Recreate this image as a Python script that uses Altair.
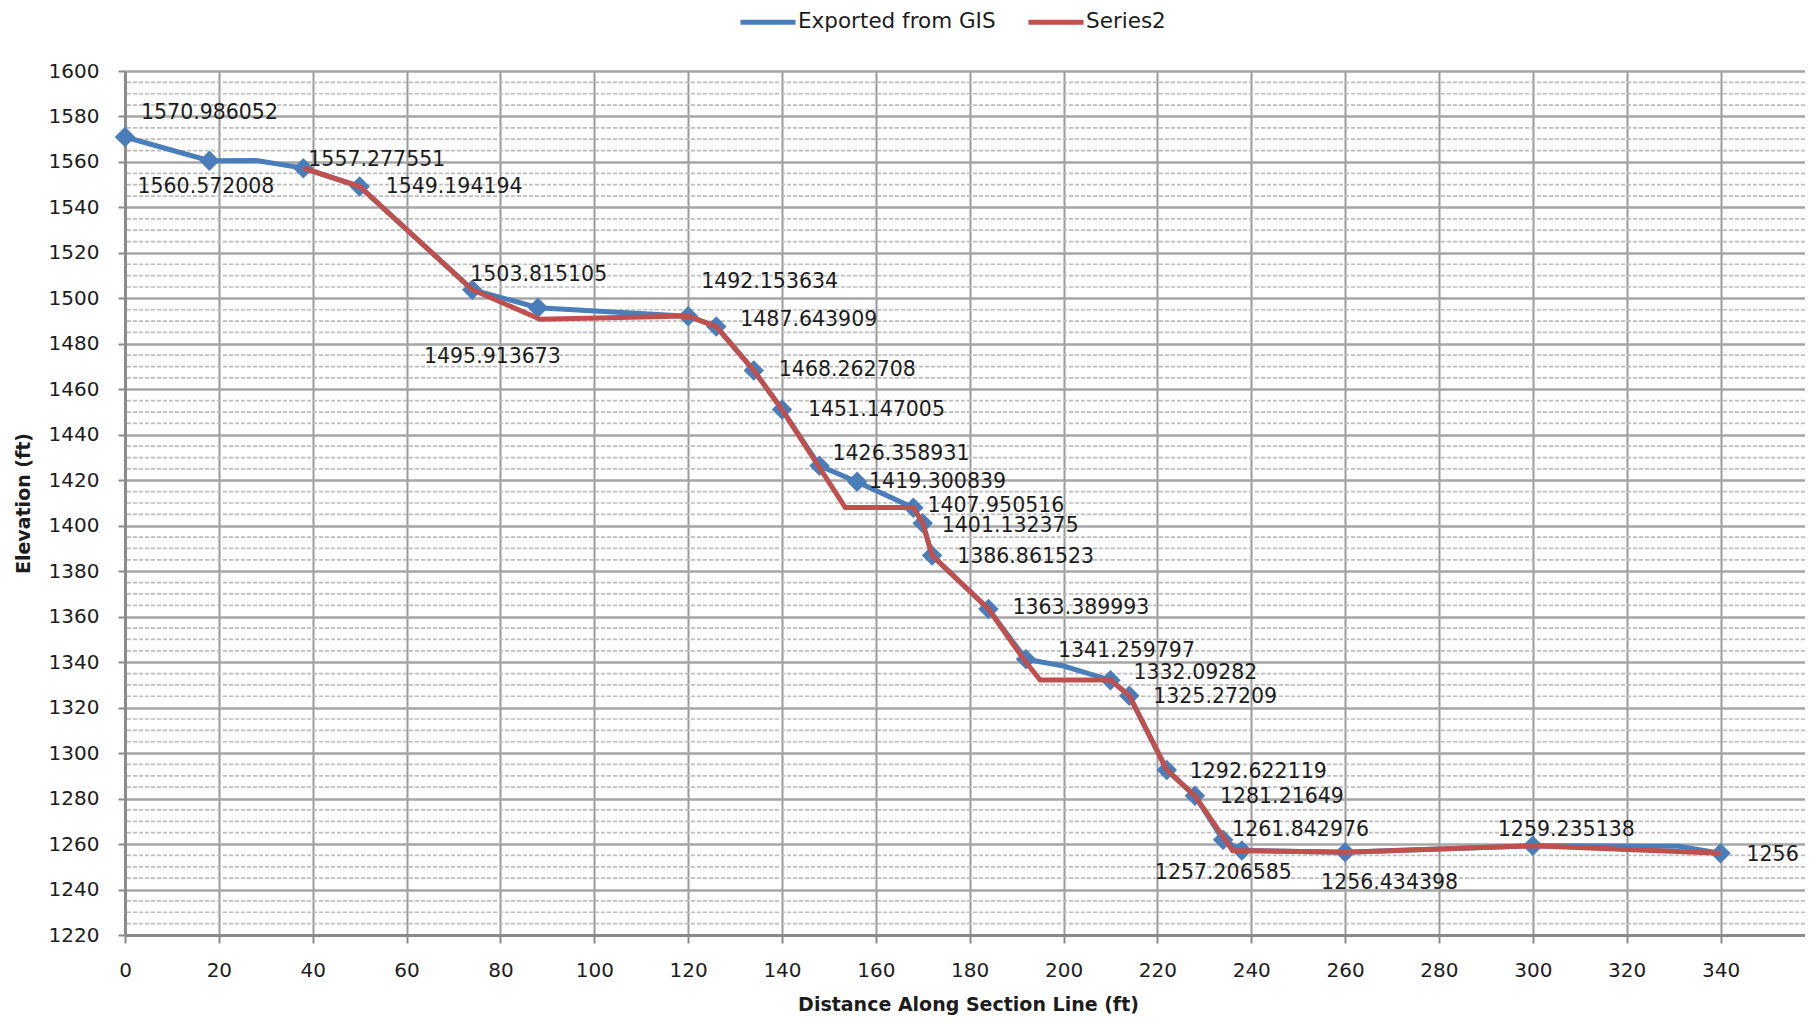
import altair as alt
import pandas as pd

# ---------------- data ----------------
series_names = ["Exported from GIS", "Series2"]
series_colors = ["#4a7ebb", "#c0504d"]

# labelled (marked) points of the GIS profile
gis_dist = [0, 18, 38, 50, 74, 88, 120, 126, 134, 140, 148, 156, 168, 170, 172,
            184, 192, 210, 214, 222, 228, 234, 238, 260, 300, 340]
gis_elev = [1570.986052, 1560.572008, 1557.277551, 1549.194194, 1503.815105,
            1495.913673, 1492.153634, 1487.643909, 1468.262708, 1451.147005,
            1426.358931, 1419.300839, 1407.950516, 1401.132375, 1386.861523,
            1363.389993, 1341.259797, 1332.09282, 1325.27209, 1292.622119,
            1281.21649, 1261.842976, 1257.206585, 1256.434398, 1259.235138, 1256]

# unmarked bends of the GIS line
gis_bend_dist = [28, 200, 331]
gis_bend_elev = [1560.6, 1338.3, 1259.0]

# Series2 profile
s2_dist = [38, 50, 74, 88.5, 120, 126, 134, 140, 153.5, 168, 170, 172, 184,
           191.5, 195, 210, 214, 222, 228, 236, 260, 300, 340]
s2_elev = [1557.3, 1549.2, 1503.8, 1490.8, 1492.2, 1487.6, 1468.3, 1451.1,
           1408.0, 1408.0, 1401.1, 1386.9, 1363.4, 1341.3, 1332.1, 1332.1,
           1325.3, 1292.6, 1281.2, 1257.2, 1256.4, 1259.2, 1256.0]

x_ticks = list(range(0, 341, 20))
y_major = list(range(1220, 1601, 20))
y_minor = [v for v in range(1220, 1601, 5) if v % 20 != 0]

# ---------------- layout / style ----------------
FONT = "DejaVu Sans"
TXT = "#1c1c1c"
W, H = 1680, 864

# pixel nudges of each data label (keyed by distance), relative to its point
LABEL_NUDGE = {
    0: (16, -24), 18: (-72, 26), 38: (5, -8), 50: (26, 0), 74: (-2, -15),
    88: (-114, 49), 120: (13, -34), 126: (24, -6), 134: (25, -1), 140: (26, 1),
    148: (13, -12), 156: (12, 0), 168: (14, -2), 170: (19, 3), 172: (25, 1),
    184: (24, -1), 192: (32, -8), 210: (23, -7), 214: (24, 1), 222: (23, 2),
    228: (25, 1), 234: (9, -10), 238: (-87, 23), 260: (-24, 31),
    300: (-35, -16), 340: (26, 2),
}

x_scale = alt.Scale(domain=[0, 358], nice=False, zero=False)
y_scale = alt.Scale(domain=[1220, 1600], nice=False, zero=False)
color_scale = alt.Scale(domain=series_names, range=series_colors)

x_axis = alt.Axis(
    values=x_ticks, format="d", title="Distance Along Section Line (ft)",
    grid=True, gridColor="#9a9a9a", gridWidth=2,
    domainColor="#8a8a8a", domainWidth=3,
    tickColor="#8a8a8a", tickWidth=2, tickSize=8,
    labelFont=FONT, labelFontSize=20, labelColor=TXT, labelPadding=17,
    labelFlush=False, labelOverlap=False,
    titleFont=FONT, titleFontSize=19, titleFontWeight="bold", titleColor=TXT,
    titleX=843, titleY=60, titleBaseline="top", titleAlign="center",
)
y_axis = alt.Axis(
    values=y_major, format="d", title="Elevation (ft)",
    grid=True, gridColor="#a6a6a6", gridWidth=2.5,
    domainColor="#8a8a8a", domainWidth=3,
    tickColor="#8a8a8a", tickWidth=2, tickSize=7,
    labelFont=FONT, labelFontSize=20, labelColor=TXT, labelPadding=19,
    labelFlush=False, labelOverlap=False,
    titleFont=FONT, titleFontSize=19, titleFontWeight="bold", titleColor=TXT,
    titleX=-102, titleY=H / 2, titleAngle=270, titleBaseline="middle",
    titleAlign="center",
)
legend = alt.Legend(
    title=None, orient="none", legendX=613, legendY=-79,
    direction="horizontal", symbolType="stroke", symbolSize=3025,
    symbolStrokeWidth=5, labelFont=FONT, labelFontSize=21.5,
    labelColor=TXT, labelOffset=0, labelLimit=0, columnPadding=22, padding=0,
)

# ---------------- frames ----------------
gis_line_df = pd.DataFrame({
    "dist": gis_dist + gis_bend_dist,
    "elev": gis_elev + gis_bend_elev,
}).sort_values("dist")
gis_line_df["series"] = series_names[0]

gis_pts_df = pd.DataFrame({"dist": gis_dist, "elev": gis_elev})
gis_pts_df["text"] = [f"{v:.10g}" for v in gis_elev]

s2_df = pd.DataFrame({"dist": s2_dist, "elev": s2_elev})
s2_df["series"] = series_names[1]

minor_df = pd.DataFrame({"v": y_minor})

X = alt.X("dist:Q", scale=x_scale, axis=x_axis)
Y = alt.Y("elev:Q", scale=y_scale, axis=y_axis)
C = alt.Color("series:N", scale=color_scale, legend=legend)

minor = alt.Chart(minor_df).mark_rule(
    color="#bdbdbd", strokeWidth=1.7, strokeDash=[4, 2]
).encode(y=alt.Y("v:Q", scale=y_scale, axis=y_axis))

gis_line = alt.Chart(gis_line_df).mark_line(strokeWidth=5).encode(
    x=X, y=Y, color=C, order=alt.Order("dist:Q"))

gis_pts = alt.Chart(gis_pts_df).mark_point(
    shape="diamond", filled=True, size=420, opacity=1, color=series_colors[0]
).encode(x=X, y=Y)

s2_line = alt.Chart(s2_df).mark_line(strokeWidth=5).encode(
    x=X, y=Y, color=C, order=alt.Order("dist:Q"))

texts = []
for d, (dx, dy) in LABEL_NUDGE.items():
    texts.append(
        alt.Chart(gis_pts_df).transform_filter(alt.datum.dist == d).mark_text(
            align="left", baseline="middle", dx=dx, dy=dy,
            font=FONT, fontSize=20.5, color=TXT,
        ).encode(x=X, y=Y, text="text:N")
    )

chart = alt.layer(minor, gis_line, gis_pts, s2_line, *texts).properties(
    width=W, height=H,
    padding={"left": 117, "top": 63, "right": 0, "bottom": 81},
    autosize=alt.AutoSizeParams(type="none"),
    background="white",
).configure_view(strokeWidth=0)

chart.save("out.html", embed_options={"renderer": "svg", "actions": False})
